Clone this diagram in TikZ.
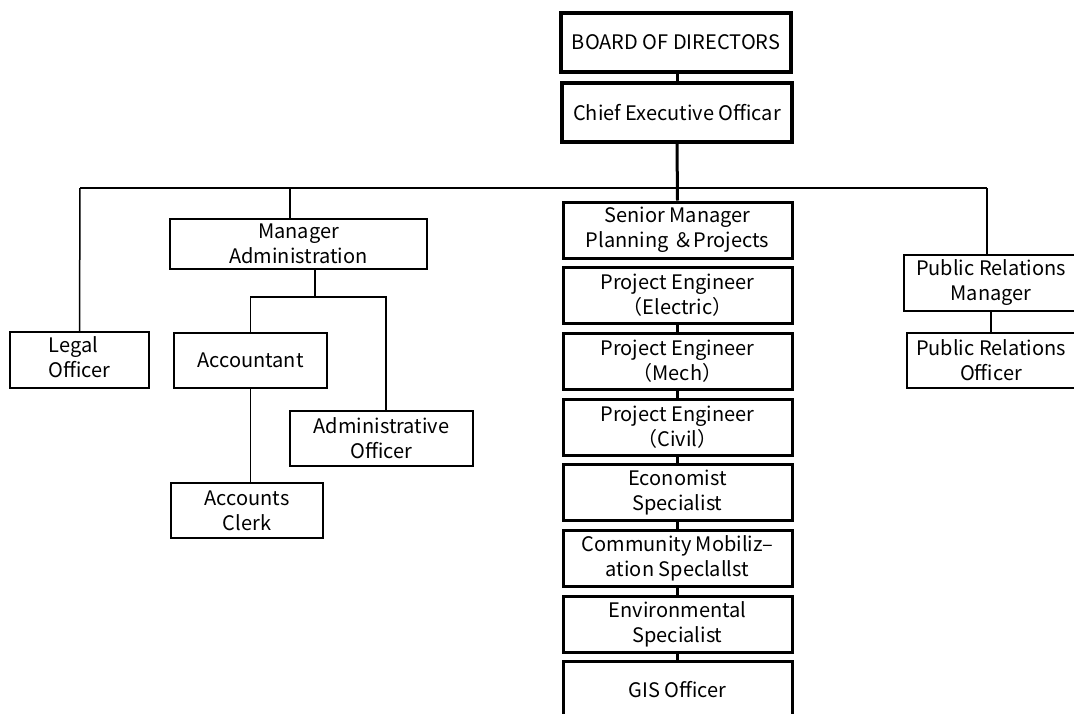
\documentclass[tikz,border=0pt]{standalone}
\usepackage{fontspec}
\setmainfont{Noto Sans CJK JP}
\usetikzlibrary{positioning}

\tikzset{
  unit/.style={draw, line width=1.5pt, align=center, inner sep=0pt,
    font=\fontsize{20}{25}\selectfont},
  chainunit/.style={unit, line width=3pt, minimum width=229pt, minimum height=56pt},
  link/.style={line width=1.5pt},
  heavylink/.style={line width=3pt},
}

\begin{document}
\begin{tikzpicture}[x=1pt, y=-1pt]
\useasboundingbox (0,0) rectangle (1074,713);
\clip (0,0) rectangle (1074,713);

% Board and chief executive
\node[unit, line width=4.5pt, minimum width=230pt, minimum height=59pt] (bod) at (676,42.5) {BOARD OF DIRECTORS};
\node[unit, line width=3.5pt, minimum width=230pt, minimum height=59pt] (ceo) at (677,112.5) {Chief Executive Officar};
\draw[heavylink] (bod.south -| ceo.south) -- (ceo.north);

% Main distribution line
\coordinate (busL) at (80,188);
\coordinate (busR) at (987,188);
\draw[link] (busL) -- (busR);

% Planning and projects column
\foreach \nm/\txt [count=\i from 0] in {
    sm/{Senior Manager\\Planning ＆Projects},
    pe1/{Project Engineer\\（Electric）},
    pe2/{Project Engineer\\（Mech）},
    pe3/{Project Engineer\\（Civil）},
    eco/{Economist\\Specialist},
    com/{Community Mobiliz–\\ation Speclallst},
    env/{Environmental\\Specialist},
    gis/{GIS Officer}} {
  \node[chainunit] (\nm) at (677.5,230+65.7*\i) {\txt};
}
\draw[heavylink] (ceo.south) -- (sm.north);
\foreach \a/\b in {pe1/pe2, pe2/pe3, pe3/eco, eco/com, com/env, env/gis} {
  \draw[line width=2.5pt] (\a.south) -- (\b.north);
}

% Legal and administration branch
\node[unit, minimum width=139pt, minimum height=56pt] (legal) at (79.5,360) {\begin{tabular}{@{}l@{}}Legal\\Officer\end{tabular}};
\node[unit, minimum width=257pt, minimum height=50pt] (madm) at (298.5,244) {Manager\\Administration};
\node[unit, minimum width=153pt, minimum height=55pt] (acct) at (250.5,360.5) {Accountant};
\node[unit, minimum width=183pt, minimum height=55pt] (aoff) at (381.5,438.5) {Administrative\\Officer};
\node[unit, minimum width=152pt, minimum height=55pt] (clerk) at (247,510.5) {Accounts\\Clerk};

\coordinate (madmIn) at (290,188);
\coordinate (admJ) at (315,297);
\coordinate (aoffIn) at (386,411);
\draw[link] (busL) -- (legal.north);
\draw[link] (madmIn) -- (madmIn |- madm.north);
\draw[link] (admJ |- madm.south) -- (admJ);
\draw[link] (acct.north) |- (admJ) -| (aoffIn);
\draw[link] (acct.south) -- (acct.south |- clerk.north);

% Public relations branch
\node[unit, minimum width=174pt, minimum height=56pt] (prm) at (991,283) {Public Relations\\Manager};
\node[unit, minimum width=168pt, minimum height=55pt] (pro) at (991,360.5) {Public Relations\\Officer};
\draw[link] (busR) -- (busR |- prm.north);
\draw[link] (prm.south) -- (pro.north);

\end{tikzpicture}
\end{document}
